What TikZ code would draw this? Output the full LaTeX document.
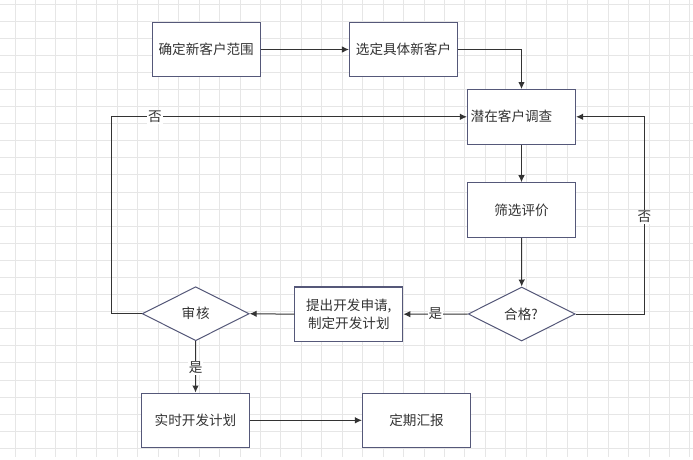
\documentclass[tikz,border=0pt]{standalone}
\usepackage{fontspec}
\setmainfont{Noto Sans CJK SC}
\usetikzlibrary{arrows.meta,shapes.geometric,calc}
\definecolor{gridcol}{HTML}{E6E6E6}
\definecolor{boxcol}{HTML}{555879}
\definecolor{linecol}{HTML}{333333}
\definecolor{txtcol}{HTML}{333333}
\begin{document}
\begin{tikzpicture}[x=1pt,y=-1pt,
  font=\fontsize{13.6}{17.3}\selectfont,
  stepbox/.style={draw=boxcol,line width=1.1pt,fill=white,minimum width=108pt,minimum height=54.5pt,inner sep=0pt,text=txtcol,align=center},
  decide/.style={diamond,draw=boxcol,line width=1pt,fill=white,minimum width=107pt,minimum height=54pt,inner sep=0pt},
  conn/.style={draw=linecol,line width=1pt,-{Latex[length=7pt,width=6.5pt]}},
  plain/.style={draw=linecol,line width=1pt},
  lbl/.style={fill=white,inner sep=1pt,text=txtcol}]
\useasboundingbox (0,0) rectangle (693,459);
\fill[white] (0,0) rectangle (693,459);
% grid
\foreach \i in {0,...,33} {\draw[gridcol,line width=0.9pt] ({15+20.45*\i},0) -- ({15+20.45*\i},457);}
\foreach \j in {0,...,26} {\draw[gridcol,line width=0.9pt] (0,{4+17.09*\j}) -- (693,{4+17.09*\j});}
% nodes
\node[stepbox] (b1) at (206.2,49.5) {确定新客户范围};
\node[stepbox] (b2) at (403.5,49.5) {选定具体新客户};
\node[stepbox] (b3) at (521.5,116.8) {};
\node[anchor=west,text=txtcol,inner sep=0pt] (t3) at (470.5,116.8) {潜在客户调查};
\node[stepbox] (b4) at (521.5,210) {筛选评价};
\node[decide] (d1) at (521.7,314) {};
\node[text=txtcol] (t1) at (521,314) {合格?};
\node[stepbox] (b5) at (348.8,314.2) {提出开发申请,\\制定开发计划};
\node[decide] (d2) at (195.7,313.7) {};
\node[text=txtcol] (t2) at (195.7,313.7) {审\kern1pt 核};
\node[stepbox] (b6) at (195.5,420.3) {实时开发计划};
\node[stepbox] (b7) at (416.5,420.3) {定期汇报};
\coordinate (lt) at (111.7,0);
\coordinate (rt) at (644.3,0);
% connectors
\draw[conn] (b1.east) -- (b2.west);
\draw[conn] (b2.east) -| (b3.north);
\draw[conn] (b3.south) -- (b4.north);
\draw[conn] (b4.south) -- (d1.north);
\draw[conn] (d1.west) -- node[lbl,pos=0.5] (y1) {是} (b5.east);
\draw[conn] (b5.west) -- (d2.east);
\draw[conn] (d2.south) -- node[lbl,pos=0.52] (y2) {是} (b6.north);
\draw[conn] (b6.east) -- (b7.west);
\draw[conn] (d2.west) -- (d2.west -| lt) |- (b3.west);
\node[lbl] (n1) at (155,117) {否};
\draw[conn] (d1.east) -- (d1.east -| rt) |- (b3.east);
\node[lbl] (n2) at (644.3,216.7) {否};
\end{tikzpicture}
\end{document}
